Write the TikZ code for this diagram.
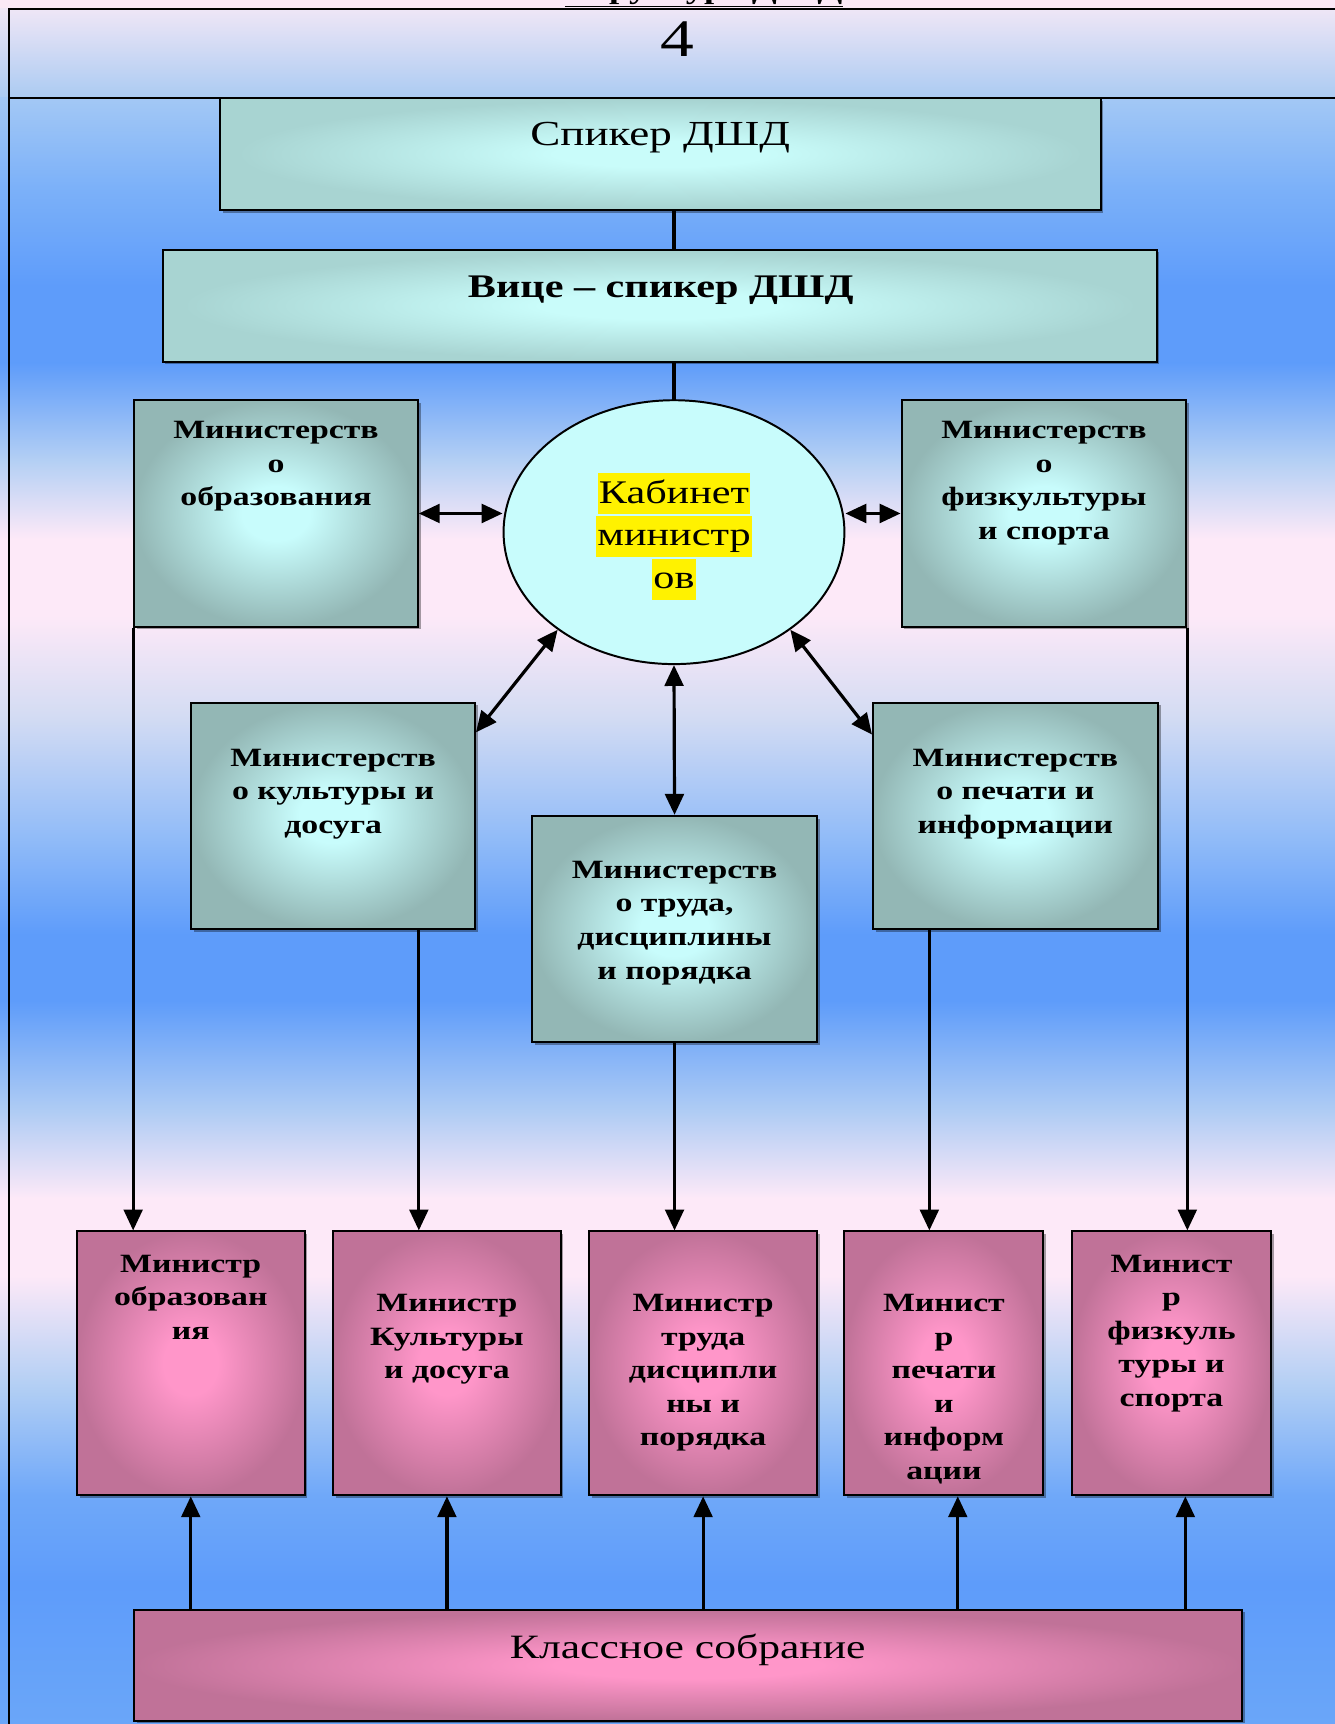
\documentclass[tikz,border=0pt]{standalone}
\usepackage{fontspec}
\setmainfont{Liberation Serif}[FakeStretch=1.28]
\usetikzlibrary{shapes.geometric,arrows.meta,calc,shadows}
\definecolor{topw}{HTML}{FBE8F6}
\definecolor{bandt}{HTML}{EFE6F6}
\definecolor{bandb}{HTML}{ABCBF2}
\definecolor{pinkw}{HTML}{FDE9F8}
\definecolor{bblue}{HTML}{5E9CFA}
\definecolor{lbA}{HTML}{A3C8F5}
\definecolor{lbB}{HTML}{7CB1F9}
\definecolor{lbC}{HTML}{B5D0F4}
\definecolor{lavc}{HTML}{D4DCF3}
\definecolor{lbD}{HTML}{92BCF8}
\definecolor{lbE}{HTML}{AFCCF4}
\definecolor{lbF}{HTML}{B3CFF4}
\definecolor{lbG}{HTML}{6FA8F9}
\definecolor{lbH}{HTML}{6AA6F9}
\definecolor{tealc}{HTML}{C9FCFA}
\definecolor{teale}{HTML}{A8D4D2}
\definecolor{minc}{HTML}{C8FCFC}
\definecolor{mine}{HTML}{93B7B5}
\definecolor{pinkc}{HTML}{FF96C9}
\definecolor{pinke}{HTML}{C07298}
\definecolor{cabfill}{HTML}{C8FCFC}
\pgfdeclareradialshading{tealglow}{\pgfpoint{0bp}{0bp}}{color(0bp)=(tealc); color(6bp)=(tealc); color(24bp)=(teale); color(50bp)=(teale)}
\pgfdeclareradialshading{minglow}{\pgfpoint{0bp}{0bp}}{color(0bp)=(minc); color(6bp)=(minc); color(25bp)=(mine); color(50bp)=(mine)}
\pgfdeclareradialshading{pinkglow}{\pgfpoint{0bp}{0bp}}{color(0bp)=(pinkc); color(6bp)=(pinkc); color(25bp)=(pinke); color(50bp)=(pinke)}
\tikzset{
  boxbase/.style={draw=black, line width=1.8pt, inner sep=0pt, shade,
    drop shadow={shadow xshift=2.5pt, shadow yshift=-2.5pt, opacity=0.35, fill=black}},
  topbox/.style={boxbase, shading=tealglow},
  minbox/.style={boxbase, shading=minglow, minimum width=258pt, minimum height=206pt},
  pinkbox/.style={boxbase, shading=pinkglow, minimum height=240pt},
  mintext/.style={font=\fontsize{24}{30.5}\selectfont\bfseries, align=center, inner sep=0pt, anchor=north},
  hl/.style={fill=yellow, inner xsep=1pt, inner ysep=0pt, text height=27pt, text depth=10pt,
    font=\fontsize{30}{39}\selectfont},
  conn/.style={line width=2.9pt, draw=black},
  arr/.style={conn, -{Triangle[length=19pt,width=17pt]}},
  darr/.style={conn, {Triangle[length=19pt,width=17pt]}-{Triangle[length=19pt,width=17pt]}},
  frameline/.style={line width=1.5pt, draw=black}
}
\begin{document}
\begin{tikzpicture}[x=1pt,y=-1pt]
\useasboundingbox (0,0) rectangle (1214,1568);
% background
\fill[topw] (0,0) rectangle (1214,8);
\shade[top color=bandt,bottom color=bandb] (0,8) rectangle (1214,89);
\shade[top color=lbA,bottom color=lbB] (0,89) rectangle (1214,170);
\shade[top color=lbB,bottom color=bblue] (0,170) rectangle (1214,260);
\fill[bblue] (0,260) rectangle (1214,330);
\shade[top color=bblue,bottom color=lbC] (0,330) rectangle (1214,420);
\shade[top color=lbC,bottom color=pinkw] (0,420) rectangle (1214,490);
\fill[pinkw] (0,490) rectangle (1214,560);
\shade[top color=pinkw,bottom color=lavc] (0,560) rectangle (1214,650);
\shade[top color=lavc,bottom color=lbD] (0,650) rectangle (1214,760);
\shade[top color=lbD,bottom color=bblue] (0,760) rectangle (1214,850);
\fill[bblue] (0,850) rectangle (1214,910);
\shade[top color=bblue,bottom color=lbE] (0,910) rectangle (1214,1010);
\shade[top color=lbE,bottom color=pinkw] (0,1010) rectangle (1214,1090);
\fill[pinkw] (0,1090) rectangle (1214,1160);
\shade[top color=pinkw,bottom color=lbF] (0,1160) rectangle (1214,1260);
\shade[top color=lbF,bottom color=lbG] (0,1260) rectangle (1214,1360);
\shade[top color=lbG,bottom color=bblue] (0,1360) rectangle (1214,1440);
\shade[top color=bblue,bottom color=lbH] (0,1440) rectangle (1214,1568);
% frame
\coordinate (ftl) at (8,8);
\coordinate (ftr) at (1214,8);
\coordinate (fbl) at (8,1568);
\coordinate (fml) at (8,89);
\coordinate (fmr) at (1214,89);
\draw[frameline] (ftr) -- (ftl) -- (fbl);
\draw[frameline] (fml) -- (fmr);
\node[font=\fontsize{26}{30}\selectfont\bfseries, anchor=base, inner sep=0pt] (title) at (640,-1) {\underline{Структура ДШД}};
\node[font=\fontsize{48}{50}\selectfont, inner sep=0pt] (num) at (616.5,35.5) {4};
% top boxes
\node[topbox, minimum width=801pt, minimum height=102pt] (spk) at (600.5,140) {};
\node[font=\fontsize{32}{36}\selectfont, inner sep=0pt] (tspk) at (600.5,125) {Спикер ДШД};
\node[topbox, minimum width=904pt, minimum height=102pt] (vice) at (600,278) {};
\node[font=\fontsize{30}{36}\selectfont\bfseries, inner sep=0pt] (tvice) at (601,264) {Вице – спикер ДШД};
% cabinet
\node[ellipse, draw=black, line width=1.8pt, fill=cabfill, minimum width=310pt, minimum height=240pt, inner sep=0pt] (cab) at (613,484) {};
\node[hl] (cab1) at (613,449) {Кабинет};
\node[hl] (cab2) at (613,488) {министр};
\node[hl] (cab3) at (613,527) {ов};
% ministries
\node[minbox] (edu) at (251,467) {};
\node[mintext] (tedu) at (251,383) {Министерств\\о\\образования};
\node[minbox, minimum width=259pt] (fiz) at (949.5,467) {};
\node[mintext] (tfiz) at (949.5,383) {Министерств\\о\\физкультуры\\и спорта};
\node[minbox] (cult) at (303,742) {};
\node[mintext] (tcult) at (303,681) {Министерств\\о культуры и\\досуга};
\node[minbox, minimum width=259pt] (trud) at (613.5,845) {};
\node[mintext] (ttrud) at (613.5,783) {Министерств\\о труда,\\дисциплины\\и порядка};
\node[minbox, minimum width=259pt] (pech) at (923.5,742) {};
\node[mintext] (tpech) at (923.5,681) {Министерств\\о печати и\\информации};
% ministers
\node[pinkbox, minimum width=207pt] (b1) at (173.5,1240) {};
\node[mintext] (tb1) at (173.5,1141) {Министр\\образован\\ия};
\node[pinkbox, minimum width=207pt] (b2) at (406.5,1240) {};
\node[mintext] (tb2) at (406.5,1177) {Министр\\Культуры\\и досуга};
\node[pinkbox, minimum width=207pt] (b3) at (639.5,1240) {};
\node[mintext] (tb3) at (639.5,1177) {Министр\\труда\\дисципли\\ны и\\порядка};
\node[pinkbox, minimum width=181pt] (b4) at (858.5,1240) {};
\node[mintext] (tb4) at (858.5,1177) {Минист\\р\\печати\\и\\информ\\ации};
\node[pinkbox, minimum width=181pt] (b5) at (1065.5,1240) {};
\node[mintext] (tb5) at (1065.5,1141) {Минист\\р\\физкуль\\туры и\\спорта};
% class meeting
\node[boxbase, shading=pinkglow, minimum width=1008pt, minimum height=101pt] (klass) at (626,1514.5) {};
\node[font=\fontsize{31}{36}\selectfont, inner sep=0pt] (tklass) at (625.5,1501) {Классное собрание};
% connectors
\draw[conn] (cab.north |- spk.south) -- (cab.north |- vice.north);
\draw[conn] (cab.north |- vice.south) -- (cab.north);
\draw[darr] (edu.east) -- (edu.east -| cab.west);
\draw[darr] (cab.east |- fiz.west) -- (fiz.west);
\draw[darr] (cab.220) -- ($(cult.north east)+(0,28)$);
\draw[darr] (cab.320) -- ($(pech.north west)+(0,30)$);
\draw[darr] (cab.south) -- (trud.north);
\coordinate (c2) at ($(cult.south west)!0.8!(cult.south east)$);
\coordinate (c4) at ($(pech.south west)!0.2!(pech.south east)$);
\draw[arr] (edu.south west) -- (edu.south west |- b1.north);
\draw[arr] (c2) -- (c2 |- b2.north);
\draw[arr] (trud.south) -- (trud.south |- b3.north);
\draw[arr] (c4) -- (c4 |- b4.north);
\draw[arr] (fiz.south east) -- (fiz.south east |- b5.north);
\coordinate (u4) at ($(b4.south west)+(104,0)$);
\coordinate (u5) at ($(b5.south west)+(104,0)$);
\draw[arr] (b1.south |- klass.north) -- (b1.south);
\draw[arr] (b2.south |- klass.north) -- (b2.south);
\draw[arr] (b3.south |- klass.north) -- (b3.south);
\draw[arr] (u4 |- klass.north) -- (u4);
\draw[arr] (u5 |- klass.north) -- (u5);
\end{tikzpicture}
\end{document}
